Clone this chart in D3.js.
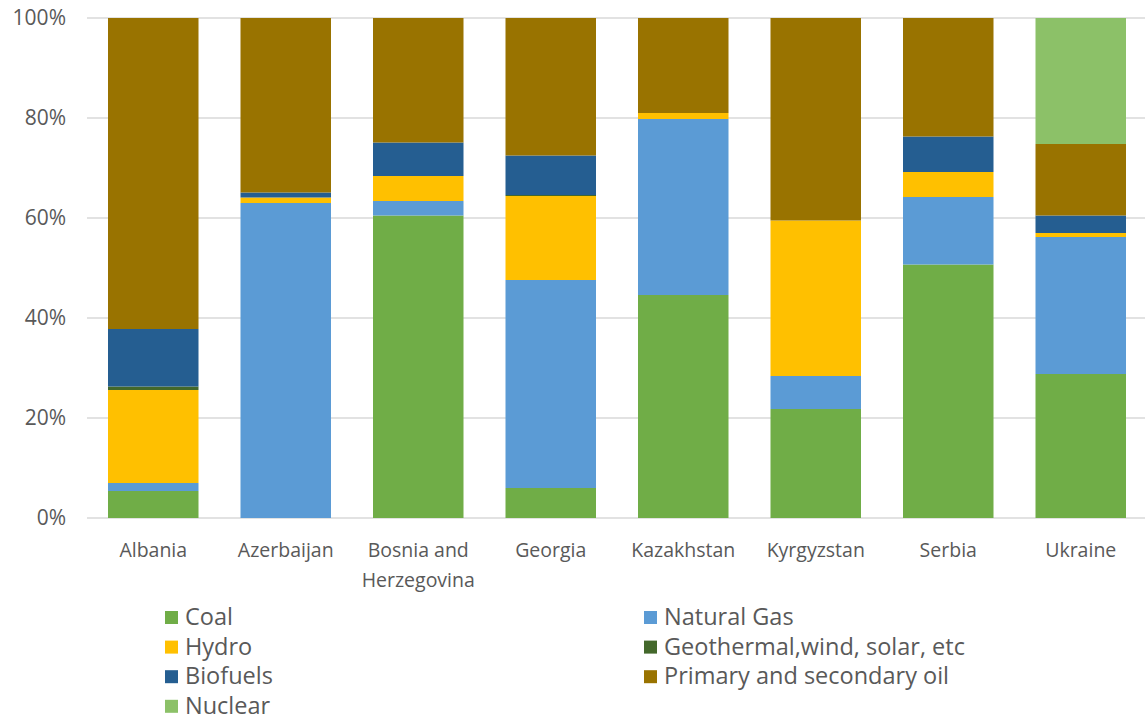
<!DOCTYPE html>
<html>
<head>
<meta charset="utf-8">
<script src="https://cdn.jsdelivr.net/npm/d3@7"></script>
<style>
  body { margin: 0; background: #fff; }
  text { font-family: "Open Sans", Lato, sans-serif; fill: #595959; }
</style>
</head>
<body>
<div id="chart"></div>
<script>
// Categories and series (percent shares)
const countries = ["Albania", "Azerbaijan", "Bosnia and Herzegovina", "Georgia", "Kazakhstan", "Kyrgyzstan", "Serbia", "Ukraine"];
const countryLines = [["Albania"], ["Azerbaijan"], ["Bosnia and", "Herzegovina"], ["Georgia"], ["Kazakhstan"], ["Kyrgyzstan"], ["Serbia"], ["Ukraine"]];
const sources = ["Coal", "Natural Gas", "Hydro", "Geothermal,wind, solar, etc", "Biofuels", "Primary and secondary oil", "Nuclear"];
const sourceColors = ["#70ad47", "#5b9bd5", "#ffc000", "#43682b", "#255e91", "#997300", "#8cc168"];

const coal       = [5.4, 0,    60.5, 6.0,  44.6, 21.8, 50.7, 28.8];
const naturalGas = [1.6, 63.0, 2.9,  41.6, 35.2, 6.6,  13.5, 27.4];
const hydro      = [18.6, 1.1, 5.0,  16.8, 1.2,  31.1, 5.0,  0.8];
const geothermal = [0.7, 0,    0,    0.2,  0,    0,    0,    0];
const biofuels   = [11.5, 1.0, 6.7,  7.9,  0,    0,    7.1,  3.5];
const oil        = [62.2, 34.9, 24.9, 27.5, 19.0, 40.5, 23.7, 14.3];
const nuclear    = [0,   0,    0,    0,    0,    0,    0,    25.2];

const yTicks = [0, 20, 40, 60, 80, 100];

const seriesValues = [coal, naturalGas, hydro, geothermal, biofuels, oil, nuclear];

const rows = countries.map((c, i) => {
    const row = { country: c };
    sources.forEach((s, j) => { row[s] = seriesValues[j][i]; });
    return row;
});

const width = 1145, height = 720;
const margin = { top: 18, right: -2, bottom: 202, left: 87 };

const svg = d3.select("#chart").append("svg")
    .attr("width", width)
    .attr("height", height);

const x = d3.scaleBand()
    .domain(countries)
    .range([margin.left, width - margin.right])
    .paddingInner(0.317)
    .paddingOuter(0.1585);

const y = d3.scaleLinear()
    .domain([0, 100])
    .range([height - margin.bottom, margin.top]);

// Gridlines
svg.append("g")
    .selectAll("line")
    .data(yTicks)
    .join("line")
    .attr("x1", margin.left)
    .attr("x2", width)
    .attr("y1", d => y(d))
    .attr("y2", d => y(d))
    .attr("stroke", "#d9d9d9")
    .attr("stroke-width", 1.5);

// Y tick labels
svg.append("g")
    .selectAll("text")
    .data(yTicks)
    .join("text")
    .attr("x", 66)
    .attr("y", d => y(d))
    .attr("dy", "0.35em")
    .attr("text-anchor", "end")
    .style("font-size", "21px")
    .text(d => d + "%");

// Stacked bars
const stack = d3.stack().keys(sources);
const stacked = stack(rows);

svg.append("g")
    .selectAll("g")
    .data(stacked)
    .join("g")
    .attr("fill", (d, i) => sourceColors[i])
    .selectAll("rect")
    .data(d => d)
    .join("rect")
    .attr("x", d => x(d.data.country))
    .attr("width", x.bandwidth())
    .attr("y", d => y(d[1]))
    .attr("height", d => y(d[0]) - y(d[1]));

// Category labels
const catLabels = svg.append("g")
    .selectAll("text")
    .data(countries)
    .join("text")
    .attr("x", d => x(d) + x.bandwidth() / 2)
    .attr("y", 557)
    .attr("text-anchor", "middle")
    .style("font-size", "19.5px");

catLabels.selectAll("tspan")
    .data((d, i) => countryLines[i])
    .join("tspan")
    .attr("x", function () { return d3.select(this.parentNode).attr("x"); })
    .attr("dy", (d, i) => i === 0 ? 0 : 30)
    .text(d => d);

// Legend (two columns, row-major)
const legendCols = [165, 644];
const legendTop = 617, legendStep = 29.6;

const legend = svg.append("g")
    .selectAll("g")
    .data(sources)
    .join("g")
    .attr("transform", (d, i) => `translate(${legendCols[i % 2]},${legendTop + Math.floor(i / 2) * legendStep})`);

legend.append("rect")
    .attr("x", 0)
    .attr("y", -6)
    .attr("width", 13)
    .attr("height", 13)
    .attr("fill", (d, i) => sourceColors[i]);

legend.append("text")
    .attr("x", 20)
    .attr("dy", "0.35em")
    .style("font-size", "23.5px")
    .text(d => d);
</script>
</body>
</html>
